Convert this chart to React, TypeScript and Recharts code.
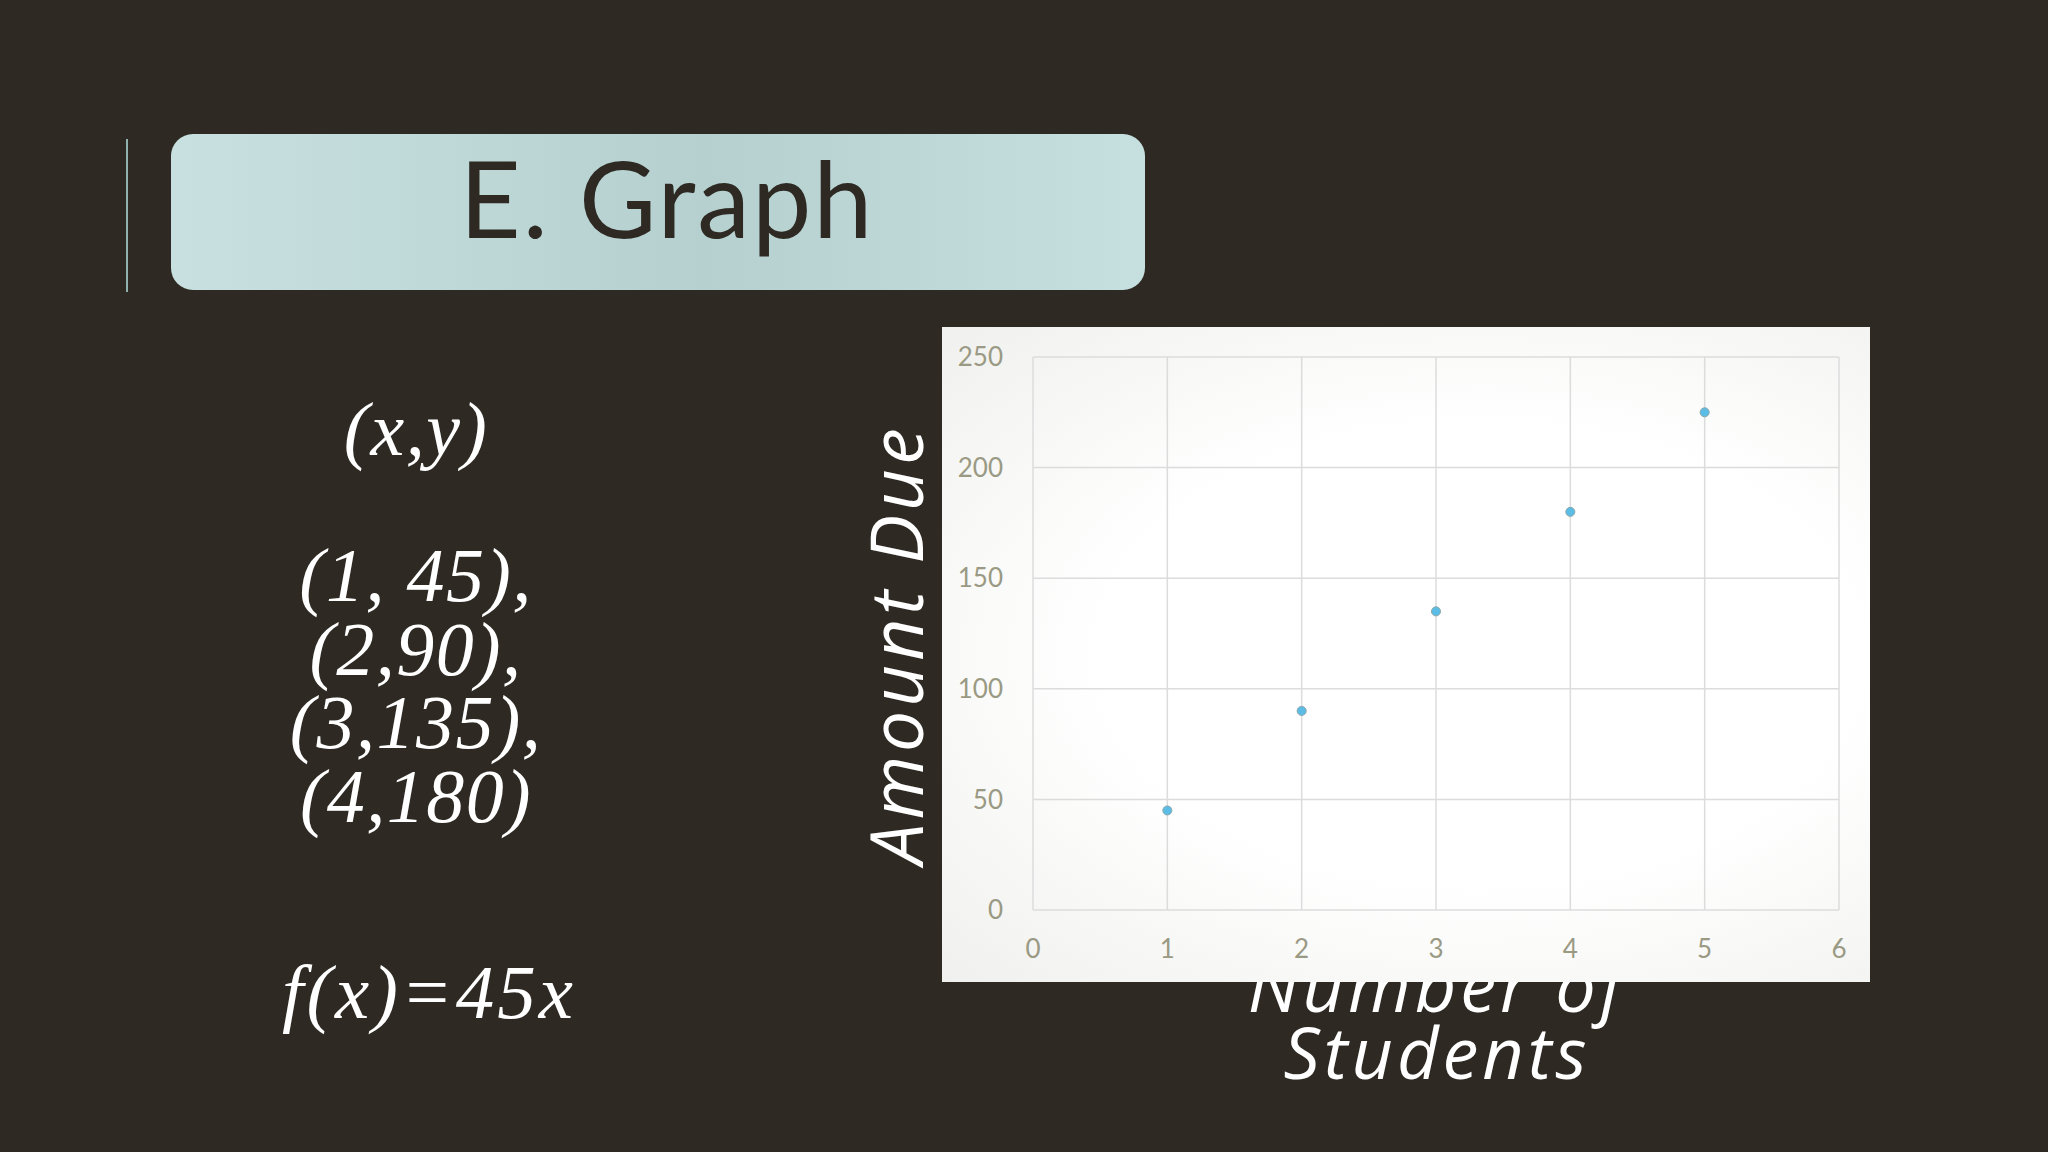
import { ScatterChart, Scatter, XAxis, YAxis, ZAxis, CartesianGrid } from "recharts";

// data
const students = [1, 2, 3, 4, 5];
const amountDue = [45, 90, 135, 180, 225];
const xTicks = [0, 1, 2, 3, 4, 5, 6];
const yTicks = [0, 50, 100, 150, 200, 250];
const pairLines = ["(1, 45),", "(2,90),", "(3,135),", "(4,180)"];

const points = students.map((x, i) => ({ x, y: amountDue[i] }));

const BG = "#2e2a23";
const TICK = { fill: "#9a9a84", fontSize: 26, fontFamily: "Lato, 'Open Sans', sans-serif" };

export default function App() {
  const serif = "'Liberation Serif', 'Times New Roman', serif";
  const sansItalic = "'Open Sans', 'Noto Sans', sans-serif";

  return (
    <div
      style={{
        position: "absolute",
        left: 0,
        top: 0,
        width: 2048,
        height: 1152,
        background: BG,
        overflow: "hidden",
      }}
    >
      {/* accent bar + title pill */}
      <div style={{ position: "absolute", left: 126, top: 139, width: 2, height: 153, background: "#8fb2ae" }} />
      <div
        style={{
          position: "absolute",
          left: 171,
          top: 134,
          width: 974,
          height: 156,
          borderRadius: 22,
          background: "linear-gradient(90deg, #c8e0e0 0%, #b9d3d3 45%, #b6d0d0 55%, #c6dfdf 100%)",
        }}
      />
      <div
        style={{
          position: "absolute",
          left: 171,
          top: 134,
          width: 992,
          textAlign: "center",
          fontFamily: "Lato, sans-serif",
          fontSize: 106,
          letterSpacing: 2,
          lineHeight: 1.2,
          color: "#2e2a23",
        }}
      >
        E. Graph
      </div>

      {/* left column of text */}
      <div
        style={{
          position: "absolute",
          left: 216,
          top: 392,
          width: 400,
          textAlign: "center",
          fontFamily: serif,
          fontStyle: "italic",
          fontSize: 76,
          letterSpacing: 1.5,
          lineHeight: "74px",
          color: "#ffffff",
        }}
      >
        (x,y)
      </div>
      <div
        style={{
          position: "absolute",
          left: 216,
          top: 539,
          width: 400,
          textAlign: "center",
          fontFamily: serif,
          fontStyle: "italic",
          fontSize: 76,
          letterSpacing: 1.5,
          lineHeight: "73.7px",
          color: "#ffffff",
        }}
      >
        {pairLines.map((l) => (
          <div key={l}>{l}</div>
        ))}
      </div>
      <div
        style={{
          position: "absolute",
          left: 229,
          top: 955,
          width: 400,
          textAlign: "center",
          fontFamily: serif,
          fontStyle: "italic",
          fontSize: 77,
          letterSpacing: 3,
          lineHeight: "74px",
          color: "#ffffff",
        }}
      >
        f(x)=45x
      </div>

      {/* axis titles sit on the slide, under the chart panel */}
      <div
        style={{
          position: "absolute",
          left: 594,
          top: 608,
          width: 600,
          height: 73,
          textAlign: "center",
          fontFamily: sansItalic,
          fontStyle: "italic",
          fontSize: 73,
          letterSpacing: 4,
          lineHeight: "73px",
          color: "#ffffff",
          transform: "rotate(-90deg)",
          whiteSpace: "nowrap",
        }}
      >
        Amount Due
      </div>
      <div
        style={{
          position: "absolute",
          left: 1137,
          top: 951,
          width: 600,
          textAlign: "center",
          fontFamily: sansItalic,
          fontStyle: "italic",
          fontSize: 72,
          letterSpacing: 4,
          lineHeight: "67px",
          color: "#ffffff",
        }}
      >
        <div>Number of</div>
        <div>Students</div>
      </div>

      {/* chart panel */}
      <div
        style={{
          position: "absolute",
          left: 942,
          top: 327,
          width: 928,
          height: 655,
          background: "radial-gradient(ellipse at 58% 50%, #ffffff 50%, #f0f0ee 100%)",
        }}
      >
        <ScatterChart width={928} height={655} margin={{ top: 30, right: 31, bottom: 32, left: 31 }}>
          <CartesianGrid stroke="#dcdcdc" strokeWidth={1.5} />
          <XAxis
            type="number"
            dataKey="x"
            domain={[0, 6]}
            ticks={xTicks}
            axisLine={false}
            tickLine={false}
            tickSize={0}
            tickMargin={30}
            height={40}
            tick={TICK}
            interval={0}
          />
          <YAxis
            type="number"
            dataKey="y"
            domain={[0, 250]}
            ticks={yTicks}
            axisLine={false}
            tickLine={false}
            tickSize={0}
            tickMargin={30}
            width={60}
            tick={TICK}
            interval={0}
          />
          <ZAxis range={[80, 80]} />
          <Scatter data={points} fill="#5bbde6" stroke="#8aa6aa" strokeWidth={1} isAnimationActive={false} />
        </ScatterChart>
      </div>
    </div>
  );
}
